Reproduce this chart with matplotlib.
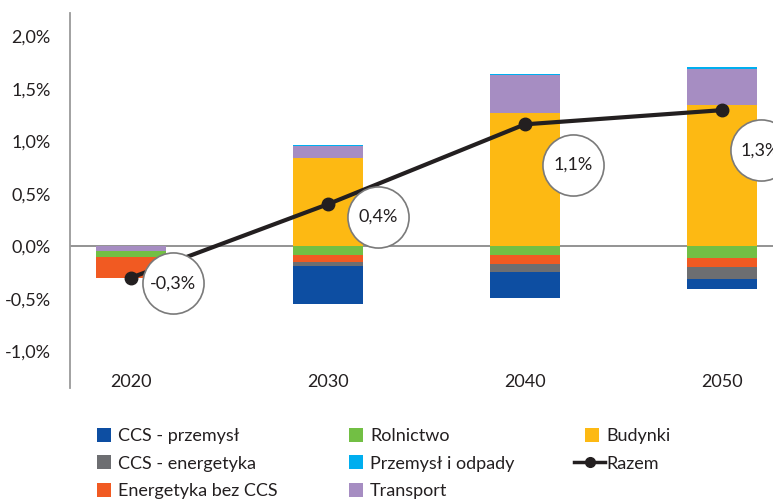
import matplotlib
matplotlib.use("Agg")
import matplotlib.pyplot as plt
import matplotlib.transforms as mtransforms
from matplotlib.lines import Line2D
from matplotlib.patches import Patch, Rectangle
from matplotlib.legend_handler import HandlerPatch
import numpy as np

plt.rcParams["font.family"] = ["Lato", "DejaVu Sans"]

years = ["2020", "2030", "2040", "2050"]

# series in stacking order (closest to zero first)
budynki = [0.0, 0.84, 1.264, 1.343]
transport = [-0.05, 0.114, 0.362, 0.343]
rolnictwo = [-0.055, -0.08, -0.086, -0.108]
energetyka_bez_ccs = [-0.195, -0.067, -0.083, -0.089]
ccs_energetyka = [0.0, -0.038, -0.079, -0.114]
ccs_przemysl = [0.0, -0.365, -0.241, -0.095]
przemysl_odpady = [0.0, 0.005, 0.01, 0.016]

razem = [-0.30, 0.40, 1.16, 1.295]
razem_labels = ["-0,3%", "0,4%", "1,1%", "1,3%"]

series = [
    ("Budynki", budynki, "#FDB913"),
    ("Transport", transport, "#A68DC2"),
    ("Rolnictwo", rolnictwo, "#72BF44"),
    ("Energetyka bez CCS", energetyka_bez_ccs, "#F15A22"),
    ("CCS - energetyka", ccs_energetyka, "#6D6E71"),
    ("CCS - przemysł", ccs_przemysl, "#0D4EA2"),
    ("Przemysł i odpady", przemysl_odpady, "#00AEEF"),
]
colors = {name: c for name, _, c in series}

# label circle offsets (points) from each Razem point
label_dx = [30, 36, 35, 28]
label_dy = [-4, -9, -29, -29]

text_color = "#231F20"

fig = plt.figure(figsize=(7.73, 4.99), dpi=100)
ax = fig.add_axes([70 / 773, 1 - 388 / 499, 1 - 70 / 773, (388 - 13) / 499])

x = np.arange(len(years))
pos_base = np.zeros(len(years))
neg_base = np.zeros(len(years))
for name, vals, col in series:
    v = np.asarray(vals, dtype=float)
    bottoms = np.where(v >= 0, pos_base, neg_base)
    ax.bar(x, v, bottom=bottoms, width=0.355, color=col, zorder=2, linewidth=0)
    pos_base += np.where(v >= 0, v, 0)
    neg_base += np.where(v < 0, v, 0)

ax.axhline(0, color="#8A8A8A", linewidth=1.3, zorder=1)

ax.plot(x, razem, color=text_color, linewidth=3, marker="o", markersize=9, zorder=4)

for i in range(len(years)):
    tr = mtransforms.offset_copy(ax.transData, fig=fig, x=label_dx[i], y=label_dy[i], units="points")
    ax.plot([x[i]], [razem[i]], marker="o", markersize=44, markerfacecolor="white",
            markeredgecolor="#7A7A7A", markeredgewidth=1.2, transform=tr, zorder=5, clip_on=False)
    ax.text(x[i], razem[i], razem_labels[i], transform=tr, ha="center", va="center",
            fontsize=13, color=text_color, zorder=6, clip_on=False)

ax.set_xlim(-0.31, 3.26)
ax.set_ylim(-1.35, 2.22)
ax.set_yticks(np.arange(-1.0, 2.01, 0.5))
ax.set_yticklabels([f"{t:.1f}%".replace(".", ",") for t in np.arange(-1.0, 2.01, 0.5)])
ax.set_xticks(x)
ax.set_xticklabels(years)
ax.tick_params(axis="y", length=0, pad=14, labelsize=13, labelcolor=text_color)
ax.tick_params(axis="x", length=0, pad=-10, labelsize=13, labelcolor=text_color)

for s in ["top", "right", "bottom"]:
    ax.spines[s].set_visible(False)
ax.spines["left"].set_color("#9A9A9A")
ax.spines["left"].set_linewidth(1.3)


def square_patch(legend, orig_handle, xdescent, ydescent, width, height, fontsize):
    sq = 10
    return Rectangle((-xdescent + width - sq - 4, -ydescent + (height - sq) / 2), sq, sq)


legend_order = ["CCS - przemysł", "CCS - energetyka", "Energetyka bez CCS",
                "Rolnictwo", "Przemysł i odpady", "Transport", "Budynki"]
handles = [Patch(facecolor=colors[n], edgecolor="none") for n in legend_order]
handles.append(Line2D([], [], color=text_color, linewidth=2.5, marker="o", markersize=7))
labels = legend_order + ["Razem"]
fig.legend(handles, labels, loc="upper left", bbox_to_anchor=(86 / 773, 1 - 428 / 499),
           ncol=3, frameon=False, fontsize=13, handlelength=1.7, handletextpad=0.1,
           columnspacing=3.3, labelspacing=0.65, borderpad=0, borderaxespad=0,
           labelcolor=text_color,
           handler_map={Patch: HandlerPatch(patch_func=square_patch)})

fig.savefig("out.png", dpi=100)
